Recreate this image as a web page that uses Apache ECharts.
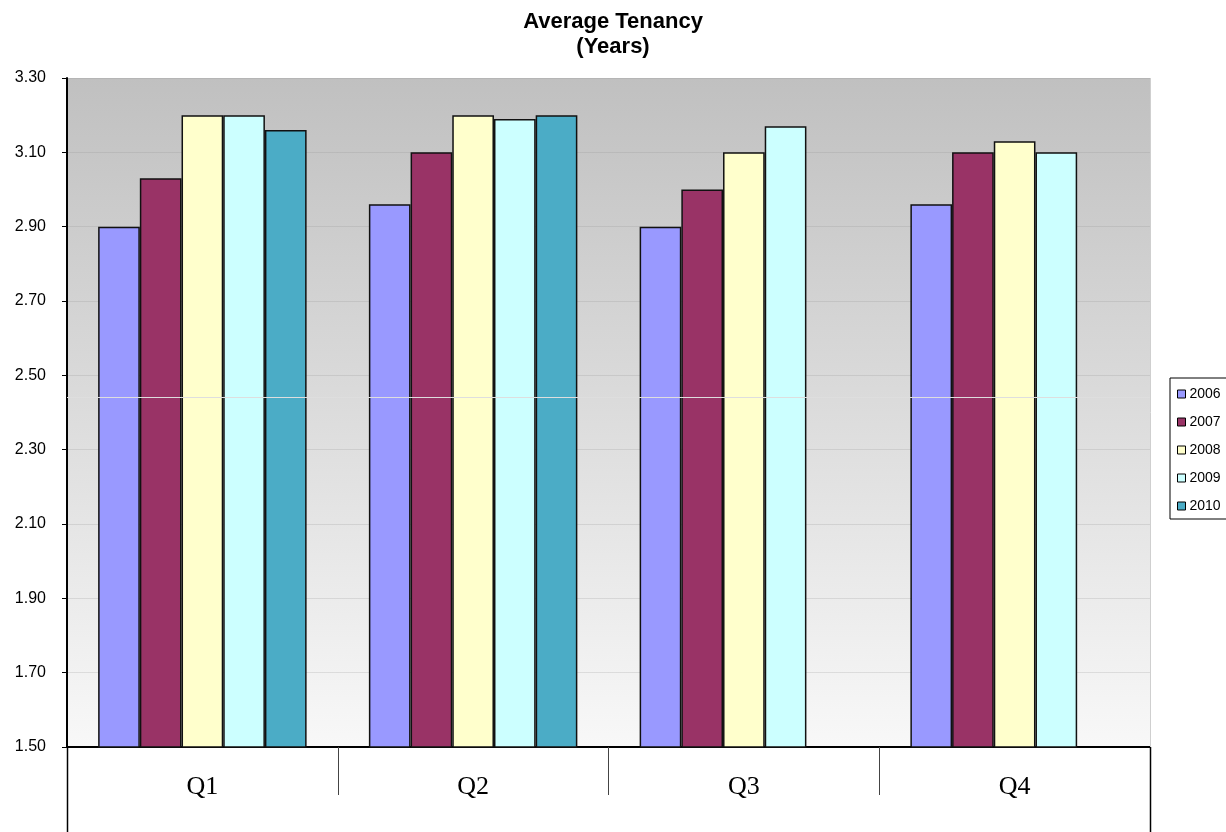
<!DOCTYPE html>
<html>
<head>
<meta charset="utf-8">
<title>Average Tenancy</title>
<script src="https://cdn.jsdelivr.net/npm/echarts@6/dist/echarts.min.js"></script>
<style>
  html, body { margin: 0; padding: 0; background: #fff; }
  #chart { width: 1226px; height: 832px; }
</style>
</head>
<body>
<div id="chart"></div>
<script>
// Quarters on the category axis
const quarters = ['Q1', 'Q2', 'Q3', 'Q4'];

// Average tenancy in years, one array per year
const years = ['2006', '2007', '2008', '2009', '2010'];
const tenancy2006 = [2.90, 2.96, 2.90, 2.96];
const tenancy2007 = [3.03, 3.10, 3.00, 3.10];
const tenancy2008 = [3.20, 3.20, 3.10, 3.13];
const tenancy2009 = [3.20, 3.19, 3.17, 3.10];
const tenancy2010 = [3.16, 3.20, null, null];

// Value axis range and step
const yMin = 1.5;
const yMax = 3.3;
const yStep = 0.2;

const seriesValues = [tenancy2006, tenancy2007, tenancy2008, tenancy2009, tenancy2010];
const seriesColors = ['#9999ff', '#993366', '#ffffcc', '#ccffff', '#4bacc6'];

const chart = echarts.init(document.getElementById('chart'), null, { renderer: 'canvas' });

const gridLeft = 67, gridRight = 76, gridTop = 78, gridBottom = 85;
const W = 1226, H = 832;
const plotRight = W - gridRight;
const plotBottom = H - gridBottom;

const series = years.map((y, i) => ({
  name: y,
  type: 'bar',
  data: seriesValues[i],
  barGap: '0%',
  barCategoryGap: '23%',
  itemStyle: { color: seriesColors[i], borderColor: '#111', borderWidth: 1.5 },
  emphasis: { disabled: true }
}));

// thin light rule running across the plot
series[4].markLine = {
  silent: true,
  symbol: 'none',
  label: { show: false },
  lineStyle: { color: '#dedede', width: 1, type: 'solid' },
  data: [{ yAxis: 2.44 }],
  animation: false
};

chart.setOption({
  animation: false,
  title: {
    text: 'Average Tenancy\n(Years)',
    left: 'center',
    top: 4,
    textStyle: {
      fontFamily: 'Liberation Sans, Arial, sans-serif',
      fontSize: 22,
      fontWeight: 'bold',
      lineHeight: 25,
      color: '#000'
    }
  },
  legend: {
    data: years,
    orient: 'vertical',
    left: 1170,
    top: 378,
    backgroundColor: '#fff',
    borderColor: '#000',
    borderWidth: 1,
    padding: [9, 20, 6, 7],
    itemWidth: 8,
    itemHeight: 8,
    itemGap: 14,
    icon: 'rect',
    itemStyle: { borderColor: '#000', borderWidth: 1 },
    textStyle: {
      fontFamily: 'Liberation Sans, Arial, sans-serif',
      fontSize: 14,
      color: '#000',
      padding: [0, 0, 0, -1]
    }
  },
  grid: {
    left: gridLeft,
    right: gridRight,
    top: gridTop,
    bottom: gridBottom,
    show: true,
    borderWidth: 0,
    backgroundColor: {
      type: 'linear', x: 0, y: 0, x2: 0, y2: 1,
      colorStops: [
        { offset: 0, color: '#c0c0c0' },
        { offset: 1, color: '#f8f8f8' }
      ]
    }
  },
  xAxis: {
    type: 'category',
    data: quarters,
    axisLine: { lineStyle: { color: '#000', width: 2 } },
    axisTick: { show: true, length: 48, interval: 0, lineStyle: { color: '#444', width: 1 } },
    axisLabel: {
      fontFamily: 'Liberation Serif, Times New Roman, serif',
      fontSize: 26,
      color: '#000',
      margin: 27
    },
    splitLine: { show: false }
  },
  yAxis: {
    type: 'value',
    min: yMin,
    max: yMax,
    interval: yStep,
    axisLine: { show: true, lineStyle: { color: '#000', width: 2 } },
    axisTick: { show: true, length: 5, lineStyle: { color: '#000', width: 1 } },
    axisLabel: {
      fontFamily: 'Liberation Sans, Arial, sans-serif',
      fontSize: 16,
      color: '#000',
      margin: 21,
      formatter: v => v.toFixed(2)
    },
    splitLine: { show: true, lineStyle: { color: 'rgba(140,140,140,0.22)', width: 1 } }
  },
  graphic: [
    // right edge of the plot area
    { type: 'line', silent: true, z: 5,
      shape: { x1: plotRight + 0.5, y1: gridTop, x2: plotRight + 0.5, y2: plotBottom },
      style: { stroke: '#cfcfcf', lineWidth: 1 } },
    // frame lines of the label band under the axis
    { type: 'line', silent: true, z: 5,
      shape: { x1: gridLeft + 0.5, y1: plotBottom, x2: gridLeft + 0.5, y2: H },
      style: { stroke: '#000', lineWidth: 1.5 } },
    { type: 'line', silent: true, z: 5,
      shape: { x1: plotRight + 0.5, y1: plotBottom, x2: plotRight + 0.5, y2: H },
      style: { stroke: '#000', lineWidth: 1.5 } }
  ],
  series: series
});
</script>
</body>
</html>
